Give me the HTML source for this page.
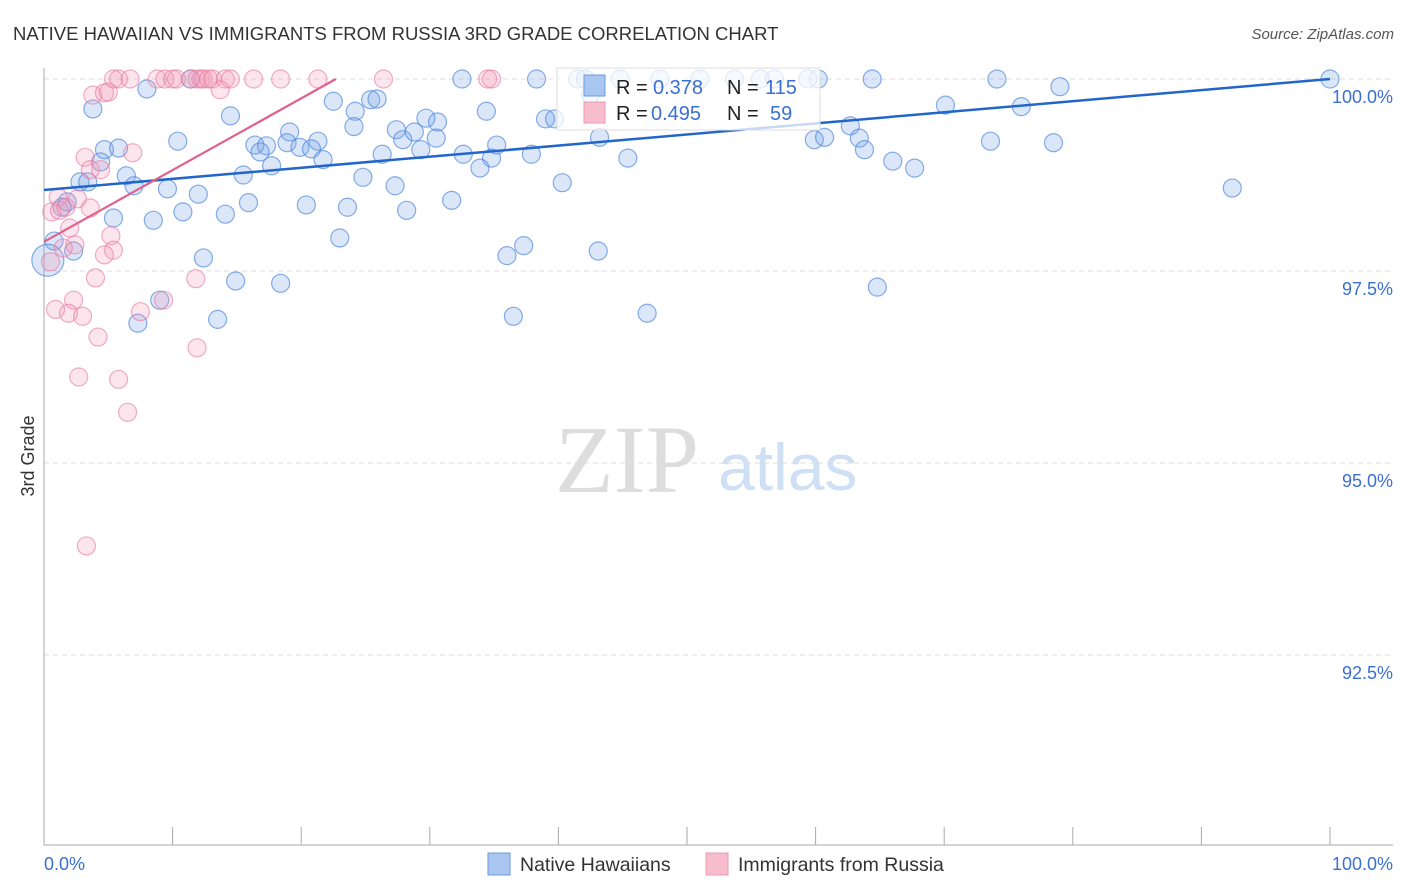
<!DOCTYPE html>
<html><head><meta charset="utf-8"><style>
body{margin:0;background:#fff;font-family:"Liberation Sans",sans-serif;}
svg{display:block}
</style></head><body>
<svg id="chart" width="1406" height="892">
<text x="13" y="40" font-size="18.5" fill="#333">NATIVE HAWAIIAN VS IMMIGRANTS FROM RUSSIA 3RD GRADE CORRELATION CHART</text>
<text x="1394" y="39" font-size="15" fill="#555" text-anchor="end" font-style="italic">Source: ZipAtlas.com</text>
<text x="555" y="492" font-family="Liberation Serif,serif" font-size="96" fill="#ddd">ZIP</text>
<text x="718" y="490" font-size="66" fill="#cfe0f5">atlas</text>
<text transform="translate(34,456) rotate(-90)" font-size="18" fill="#333" text-anchor="middle">3rd Grade</text>
<g id="grid"></g>
<g id="axes"></g>
<g id="pts"></g>
<g id="lines"></g>
<g>
<rect x="557" y="68" width="263" height="62" fill="#fff" fill-opacity="0.75" stroke="#ddd"/>
<rect x="584" y="75" width="21" height="21" fill="#a9c6f0" stroke="#6c9be0"/>
<rect x="584" y="102" width="21" height="21" fill="#f7bccd" stroke="#ec9ab4"/>
<text x="616" y="94" font-size="20" fill="#222">R = <tspan x="653" fill="#3a6fd3">0.378</tspan><tspan x="727">N = </tspan><tspan x="765" fill="#3a6fd3">115</tspan></text>
<text x="616" y="120" font-size="20" fill="#222">R = <tspan x="651" fill="#3a6fd3">0.495</tspan><tspan x="727">N = </tspan><tspan x="770" fill="#3a6fd3">59</tspan></text>
</g>
<g>
<rect x="488" y="853" width="22" height="22" fill="#a9c6f0" stroke="#6c9be0"/>
<text x="520" y="871" font-size="19.5" fill="#333">Native Hawaiians</text>
<rect x="706" y="853" width="22" height="22" fill="#f7bccd" stroke="#ec9ab4"/>
<text x="738" y="871" font-size="19.5" fill="#333">Immigrants from Russia</text>
</g>
</svg>
<script>
const yTicks=[100,97.5,95,92.5];
const yTickLabels=["100.0%","97.5%","95.0%","92.5%"];
const xEndLabels=["0.0%","100.0%"];
const blueX=[100,74.1,64.4,60.2,59.4,32.5,38.3,41.5,11.4,8.0,3.8,14.5,79.0,70.1,76.0,22.5,24.2,25.4,25.9,34.4,24.1,29.7,30.6,39.0,39.7,43.2,27.4,27.9,28.8,30.5,29.3,19.1,21.3,10.4,16.4,17.3,16.8,18.9,19.9,20.8,21.7,17.7,26.3,32.6,35.2,34.8,33.9,37.9,45.4,59.9,60.7,62.7,63.4,63.8,66.0,67.7,73.6,78.5,92.4,64.8,4.7,5.8,4.4,2.8,3.4,6.4,7.0,9.6,15.5,12.0,10.8,8.5,5.4,14.1,15.9,20.4,23.6,24.8,27.3,28.2,31.7,40.3,1.8,1.4,0.78,2.3,0.3,12.4,23.0,36.0,37.3,43.1,14.9,18.4,9.0,7.3,13.5,36.5,46.9,42.1,44.8,47.9,51.0,53.7,55.7,56.8,42.5];
const blueY=[100,100,100,100,100,100,100,100,100,99.87,99.61,99.52,99.9,99.66,99.64,99.71,99.58,99.73,99.74,99.58,99.38,99.49,99.44,99.48,99.48,99.24,99.34,99.21,99.31,99.23,99.08,99.31,99.19,99.19,99.14,99.13,99.05,99.17,99.11,99.09,98.95,98.87,99.02,99.02,99.14,98.97,98.84,99.02,98.97,99.21,99.24,99.39,99.23,99.08,98.93,98.84,99.19,99.17,98.58,97.29,99.08,99.10,98.92,98.66,98.66,98.74,98.61,98.57,98.75,98.50,98.27,98.16,98.19,98.24,98.39,98.36,98.33,98.72,98.61,98.29,98.42,98.65,98.40,98.33,97.89,97.76,97.64,97.67,97.93,97.70,97.83,97.76,97.37,97.34,97.12,96.82,96.87,96.91,96.95,100,100,100,100,100,100,100,99.8];
const pinkX=[5.4,5.8,6.7,8.8,9.4,10.0,10.3,11.4,11.9,12.2,12.4,12.8,13.1,14.1,14.5,16.3,18.4,21.3,26.4,34.5,34.8,3.8,4.7,5.0,13.7,3.2,3.6,4.4,6.9,1.1,0.6,1.2,1.7,2.6,3.6,2.0,2.4,1.5,0.5,5.2,5.4,4.7,4.0,2.3,0.9,1.9,3.0,7.5,9.3,11.8,4.2,11.9,2.7,5.8,6.5,3.3];
const pinkY=[100,100,100,100,100,100,100,100,100,100,100,100,100,100,100,100,100,100,100,100,100,99.79,99.82,99.83,99.86,98.98,98.82,98.82,99.04,98.46,98.27,98.29,98.33,98.44,98.32,98.06,97.84,97.80,97.62,97.96,97.77,97.71,97.41,97.12,97.0,96.95,96.91,96.97,97.12,97.40,96.64,96.50,96.12,96.09,95.66,93.92];
const blueTrend=[98.555,100];
const pinkTrend=[97.88,100,22.7];

const NS="http://www.w3.org/2000/svg";
const X0=44,X1=1330,YTOP=79,PXPER=76.8;
const sx=v=>X0+(X1-X0)*v/100;
const sy=v=>YTOP+(100-v)*PXPER;
function mk(tag,attrs,parent){const e=document.createElementNS(NS,tag);for(const k in attrs)e.setAttribute(k,attrs[k]);document.getElementById(parent).appendChild(e);return e;}

yTicks.forEach((t,i)=>{
  const l=mk('line',{x1:44,x2:1393,y1:sy(t),y2:sy(t),stroke:'#ddd','stroke-dasharray':'5,4'},'grid');
  
  
  const tx=mk('text',{x:1393,y:sy(t)+24,'font-size':18,fill:'#3a6fd3','text-anchor':'end'},'grid');
  tx.textContent=yTickLabels[i];
  
  
});
let a=mk('line',{x1:44,x2:44,y1:68,y2:845,stroke:'#aaa'},'axes');


a=mk('line',{x1:44,x2:1393,y1:845,y2:845,stroke:'#aaa'},'axes');


for(let i=0;i<=10;i++){
  const t=mk('line',{x1:sx(i*10),x2:sx(i*10),y1:827,y2:845,stroke:'#aaa'},'axes');
  
  
}
let xl=mk('text',{x:44,y:870,'font-size':18,fill:'#3a6fd3'},'axes');xl.textContent=xEndLabels[0];


xl=mk('text',{x:1393,y:870,'font-size':18,fill:'#3a6fd3','text-anchor':'end'},'axes');xl.textContent=xEndLabels[1];



blueX.forEach((x,i)=>{
  const c=mk('circle',{cx:sx(x),cy:sy(blueY[i]),r:(x<0.5?16:9),fill:'rgba(110,160,230,0.25)',stroke:'rgba(70,130,220,0.65)','stroke-width':1.2},'pts');
  
  
});
pinkX.forEach((x,i)=>{
  const c=mk('circle',{cx:sx(x),cy:sy(pinkY[i]),r:9,fill:'rgba(245,150,180,0.25)',stroke:'rgba(232,120,160,0.6)','stroke-width':1.2},'pts');
  
  
});
let tl=mk('line',{x1:sx(0),y1:sy(blueTrend[0]),x2:sx(100),y2:sy(blueTrend[1]),stroke:'#2266cc','stroke-width':2.5},'lines');


tl=mk('line',{x1:sx(0),y1:sy(pinkTrend[0]),x2:sx(pinkTrend[2]),y2:sy(pinkTrend[1]),stroke:'#e0628c','stroke-width':2.2},'lines');


</script>
</body></html>
